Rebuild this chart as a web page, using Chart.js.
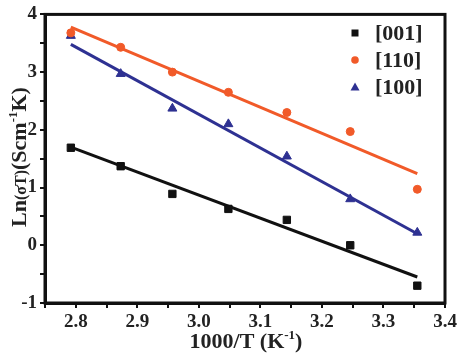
<!DOCTYPE html>
<html>
<head>
<meta charset="utf-8">
<script src="https://cdn.jsdelivr.net/npm/chart.js@4/dist/chart.umd.min.js"></script>
<style>
  body { margin: 0; background: #fff; }
  #wrap { width: 470px; height: 361px; }
</style>
</head>
<body>
<div id="wrap"><canvas id="grafico" width="470" height="361"></canvas></div>
<script>
// 1000/T values (K^-1)
const invT = [2.792, 2.873, 2.957, 3.048, 3.143, 3.246, 3.355];
// Ln(sigma T) for each direction
const ln001 = [1.69, 1.37, 0.89, 0.63, 0.44, 0.00, -0.70];
const ln110 = [3.68, 3.43, 3.00, 2.65, 2.30, 1.97, 0.97];
const ln100 = [3.63, 2.97, 2.37, 2.10, 1.54, 0.80, 0.22];
// fitted lines (end points)
const fitX = [2.792, 3.355];
const fit001 = [1.70, -0.55];
const fit110 = [3.78, 1.24];
const fit100 = [3.48, 0.20];

const labels = ['[001]', '[110]', '[100]'];
const cores = ['#111111', '#f15a29', '#2e3192'];
const estilos = ['rect', 'circle', 'triangle'];

const FONTE = '"Liberation Serif", "Times New Roman", serif';

function pares(xs, ys) {
    return xs.map((x, i) => ({ x: x, y: ys[i] }));
}

const pontos = [ln001, ln110, ln100];
const fits = [fit001, fit110, fit100];
const raios = [5.2, 4, 5.2];

const datasets = [];
pontos.forEach((ys, i) => {
    datasets.push({
        label: labels[i],
        data: pares(invT, ys),
        showLine: false,
        pointStyle: estilos[i],
        pointRadius: raios[i],
        pointBackgroundColor: cores[i],
        pointBorderColor: cores[i],
        pointBorderWidth: 1,
        order: 1
    });
});
fits.forEach((ys, i) => {
    datasets.push({
        label: 'fit ' + labels[i],
        data: pares(fitX, ys),
        showLine: true,
        borderColor: cores[i],
        borderWidth: 3,
        pointRadius: 0,
        order: 2
    });
});

// moldura do gráfico
const moldura = {
    id: 'moldura',
    afterDraw(chart) {
        const { ctx, chartArea: a } = chart;
        ctx.save();
        ctx.strokeStyle = '#111';
        ctx.lineWidth = 3;
        ctx.strokeRect(a.left, a.top, a.right - a.left, a.bottom - a.top);
        ctx.restore();
    }
};

// legenda dentro da área
const legenda = {
    id: 'legenda',
    afterDraw(chart) {
        const ctx = chart.ctx;
        ctx.save();
        ctx.font = 'bold 22px ' + FONTE;
        ctx.textBaseline = 'middle';
        const ys = [33, 60, 87];
        labels.forEach((lab, i) => {
            const x = 355, y = ys[i];
            ctx.fillStyle = cores[i];
            ctx.beginPath();
            if (estilos[i] === 'rect') {
                ctx.rect(x - 3.5, y - 3.5, 7, 7);
            } else if (estilos[i] === 'circle') {
                ctx.arc(x, y, 3.8, 0, Math.PI * 2);
            } else {
                ctx.moveTo(x, y - 4.5);
                ctx.lineTo(x + 4.5, y + 3.5);
                ctx.lineTo(x - 4.5, y + 3.5);
                ctx.closePath();
            }
            ctx.fill();
            ctx.fillStyle = '#222';
            ctx.fillText(lab, 375, y + 1);
        });
        ctx.restore();
    }
};

// títulos com sobrescrito
function escrevePartes(ctx, partes, cx, baseline) {
    let total = 0;
    partes.forEach(p => {
        ctx.font = 'bold ' + p.size + 'px ' + FONTE;
        p.w = ctx.measureText(p.t).width;
        total += p.w;
    });
    let x = cx - total / 2;
    partes.forEach(p => {
        ctx.font = 'bold ' + p.size + 'px ' + FONTE;
        ctx.fillText(p.t, x, baseline + (p.dy || 0));
        x += p.w;
    });
}

const titulos = {
    id: 'titulos',
    afterDraw(chart) {
        const ctx = chart.ctx;
        ctx.save();
        ctx.fillStyle = '#222';
        ctx.textBaseline = 'alphabetic';
        ctx.textAlign = 'left';
        escrevePartes(ctx, [
            { t: '1000/T (K', size: 22 },
            { t: '-1', size: 13, dy: -9 },
            { t: ')', size: 22 }
        ], 246, 348);

        ctx.translate(26, 157);
        ctx.rotate(-Math.PI / 2);
        escrevePartes(ctx, [
            { t: 'Ln', size: 22 },
            { t: '(σT)', size: 16 },
            { t: '(Scm', size: 22 },
            { t: '-1', size: 13, dy: -9 },
            { t: 'K)', size: 22 }
        ], 0, 0);
        ctx.restore();
    }
};

new Chart(document.getElementById('grafico'), {
    type: 'scatter',
    data: { datasets: datasets },
    plugins: [moldura, legenda, titulos],
    options: {
        responsive: false,
        animation: false,
        layout: { padding: { left: 0, top: 12, right: 25, bottom: 0 } },
        plugins: {
            legend: { display: false },
            tooltip: { enabled: false }
        },
        scales: {
            x: {
                type: 'linear',
                min: 2.75,
                max: 3.4,
                afterFit: s => { s.height = 58; },
                border: { display: true, color: '#111', width: 3 },
                grid: { drawOnChartArea: false, drawTicks: true, tickLength: 5, color: '#111', lineWidth: 2 },
                ticks: {
                    stepSize: 0.05,
                    autoSkip: false,
                    maxRotation: 0,
                    padding: 3,
                    color: '#222',
                    font: { family: FONTE, size: 19, weight: 'bold' },
                    callback: v => {
                        const n = Math.round(v * 100);
                        return n % 10 === 0 ? (n / 100).toFixed(1) : '';
                    }
                }
            },
            y: {
                type: 'linear',
                min: -1,
                max: 4,
                afterFit: s => { s.width = 45; },
                border: { display: true, color: '#111', width: 3 },
                grid: { drawOnChartArea: false, drawTicks: true, tickLength: 5, color: '#111', lineWidth: 2 },
                ticks: {
                    stepSize: 0.5,
                    autoSkip: false,
                    padding: 3,
                    color: '#222',
                    font: { family: FONTE, size: 19, weight: 'bold' },
                    callback: v => Number.isInteger(v) ? v : ''
                }
            }
        }
    }
});
</script>
</body>
</html>
